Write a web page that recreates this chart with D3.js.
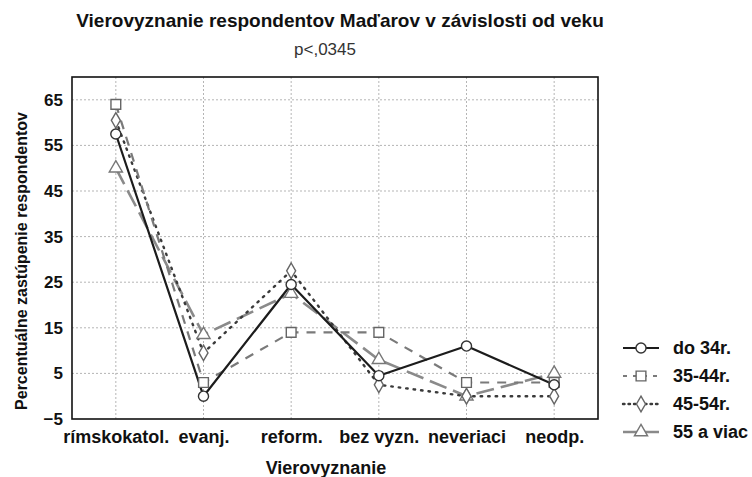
<!DOCTYPE html>
<html>
<head>
<meta charset="utf-8">
<script src="https://cdn.jsdelivr.net/npm/d3@7"></script>
<style>
  html, body { margin: 0; padding: 0; background: #fff; }
  svg { display: block; font-family: "Liberation Sans", Arial, sans-serif; }
</style>
</head>
<body>
<svg id="chart" width="752" height="477"></svg>
<script>
// ---- data ----
const categories = ["rímskokatol.", "evanj.", "reform.", "bez vyzn.", "neveriaci", "neodp."];
const seriesNames = ["do 34r.", "35-44r.", "45-54r.", "55 a viac"];
const do34 = [57.5, 0, 24.5, 4.5, 11, 2.5];
const age35_44 = [64, 3, 14, 14, 3, 3];
const age45_54 = [60.5, 9.5, 27.5, 2.5, 0, 0];
const age55plus = [50, 13.5, 22.5, 8, 0, 5];
const yTicks = [-5, 5, 15, 25, 35, 45, 55, 65];
const titleText = "Vierovyznanie respondentov Maďarov v závislosti od veku";
const subtitleText = "p<,0345";
const xTitle = "Vierovyznanie";
const yTitle = "Percentuálne zastúpenie respondentov";

// ---- styles ----
const styles = [
  { values: do34,      stroke: "#1c1c1c", width: 2.2, dash: null,    symbol: d3.symbolCircle,   size: 80,  mstroke: "#333" },
  { values: age35_44,  stroke: "#7a7a7a", width: 2.2, dash: "9,8",   symbol: d3.symbolSquare,   size: 95,  mstroke: "#666" },
  { values: age45_54,  stroke: "#3a3a3a", width: 2.4, dash: "1.5,6", symbol: d3.symbolDiamond,  size: 70,  mstroke: "#666", cap: "round" },
  { values: age55plus, stroke: "#8a8a8a", width: 2.6, dash: "18,7",  symbol: d3.symbolTriangle, size: 75,  mstroke: "#777" }
];

const svg = d3.select("#chart");
const pLeft = 72, pRight = 598, pTop = 77, pBottom = 419;

const x = d3.scalePoint().domain(categories).range([pLeft, pRight]).padding(0.5);
const y = d3.scaleLinear().domain([-5, 70]).range([pBottom, pTop]);

// grid
const grid = svg.append("g");
grid.selectAll("line.h").data(yTicks.filter(t => t > -5)).join("line")
  .attr("x1", pLeft).attr("x2", pRight)
  .attr("y1", d => y(d)).attr("y2", d => y(d))
  .attr("stroke", "#b5b5b5").attr("stroke-width", 1).attr("stroke-dasharray", "2,2");
grid.selectAll("line.v").data(categories).join("line")
  .attr("x1", d => x(d)).attr("x2", d => x(d))
  .attr("y1", pTop).attr("y2", pBottom)
  .attr("stroke", "#b5b5b5").attr("stroke-width", 1).attr("stroke-dasharray", "2,2");

// frame
svg.append("rect").attr("x", pLeft).attr("y", pTop)
  .attr("width", pRight - pLeft).attr("height", pBottom - pTop)
  .attr("fill", "none").attr("stroke", "#111").attr("stroke-width", 1.6);

// axes (labels)
const yAxis = d3.axisLeft(y).tickValues(yTicks).tickSize(0).tickPadding(9);
const gy = svg.append("g").attr("transform", `translate(${pLeft},0)`).call(yAxis);
gy.select(".domain").remove();
gy.selectAll("text").attr("font-size", 17).attr("font-weight", "bold")
  .attr("fill", "#111").attr("font-family", "Liberation Sans, Arial, sans-serif");

const xAxis = d3.axisBottom(x).tickSize(0).tickPadding(11);
const gx = svg.append("g").attr("transform", `translate(0,${pBottom})`).call(xAxis);
gx.select(".domain").remove();
gx.selectAll("text").attr("font-size", 18).attr("font-weight", "bold")
  .attr("fill", "#111").attr("font-family", "Liberation Sans, Arial, sans-serif");

// titles
svg.append("text").attr("x", 340).attr("y", 27).attr("text-anchor", "middle")
  .attr("font-size", 19).attr("font-weight", "bold").attr("fill", "#111").text(titleText);
svg.append("text").attr("x", 325).attr("y", 55).attr("text-anchor", "middle")
  .attr("font-size", 17).attr("fill", "#333").text(subtitleText);
svg.append("text").attr("x", 326).attr("y", 474).attr("text-anchor", "middle")
  .attr("font-size", 18).attr("font-weight", "bold").attr("fill", "#111").text(xTitle);
svg.append("text").attr("transform", "translate(27,261) rotate(-90)").attr("text-anchor", "middle")
  .attr("font-size", 16).attr("font-weight", "bold").attr("fill", "#111").text(yTitle);

// lines
const line = d3.line().x((d, i) => x(categories[i])).y(d => y(d));
const drawOrder = [3, 2, 1, 0];
drawOrder.forEach(k => {
  const s = styles[k];
  svg.append("path").datum(s.values).attr("d", line)
    .attr("fill", "none").attr("stroke", s.stroke).attr("stroke-width", s.width)
    .attr("stroke-dasharray", s.dash).attr("stroke-linecap", s.cap || "butt")
    .attr("stroke-linejoin", "round");
});
// markers
drawOrder.forEach(k => {
  const s = styles[k];
  svg.append("g").selectAll("path").data(s.values).join("path")
    .attr("transform", (d, i) => `translate(${x(categories[i])},${y(d)})`)
    .attr("d", d3.symbol().type(s.symbol).size(s.size))
    .attr("fill", "#fff").attr("stroke", s.mstroke).attr("stroke-width", 1.4);
});

// legend
const legY = d3.scalePoint().domain(seriesNames).range([348, 432]);
const leg = svg.append("g");
seriesNames.forEach((name, k) => {
  const s = styles[k];
  const yy = legY(name);
  leg.append("line").attr("x1", 623).attr("x2", 659).attr("y1", yy).attr("y2", yy)
    .attr("stroke", s.stroke).attr("stroke-width", s.width)
    .attr("stroke-dasharray", k === 0 || k === 3 ? null : (k === 1 ? "4,6" : "1.5,4"))
    .attr("stroke-linecap", s.cap || "butt");
  leg.append("path").attr("transform", `translate(641,${yy})`)
    .attr("d", d3.symbol().type(s.symbol).size(s.size))
    .attr("fill", "#fff").attr("stroke", s.mstroke).attr("stroke-width", 1.4);
  leg.append("text").attr("x", 673).attr("y", yy).attr("dy", "0.36em")
    .attr("font-size", 18).attr("font-weight", "bold").attr("fill", "#111").text(name);
});
</script>
</body>
</html>
